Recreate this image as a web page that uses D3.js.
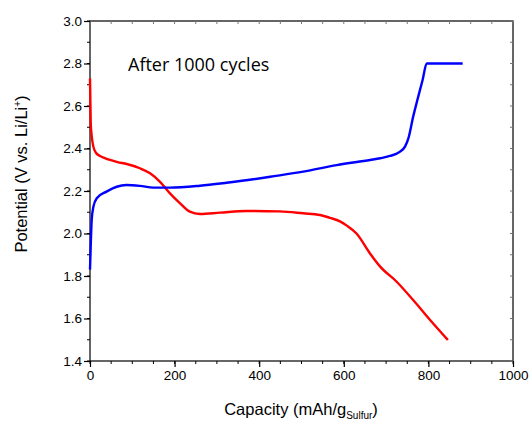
<!doctype html>
<html>
<head>
<meta charset="utf-8">
<script src="https://cdnjs.cloudflare.com/ajax/libs/d3/7.8.5/d3.min.js"></script>
<style>
  body { margin: 0; background: #fff; }
  svg text { font-family: "Liberation Sans", Arial, sans-serif; fill: #000; }
  path.domain { stroke: none; }
</style>
</head>
<body>
<svg id="chart" width="530" height="422"></svg>
<script>
// discharge curve (red)
var dischargeCap = [0, 1.7, 4, 7.8, 14, 23.6, 35, 47.3, 65, 86.8, 118, 142, 165, 189, 213, 236, 260, 307, 370, 449, 504, 544, 567, 591, 607, 630, 662, 686, 725, 764, 804, 846];
var dischargeV   = [2.73, 2.52, 2.46, 2.41, 2.38, 2.365, 2.355, 2.346, 2.336, 2.327, 2.307, 2.283, 2.244, 2.189, 2.142, 2.103, 2.092, 2.098, 2.106, 2.104, 2.095, 2.087, 2.074, 2.057, 2.037, 2.0, 1.906, 1.844, 1.773, 1.687, 1.593, 1.499];
// charge curve (blue)
var chargeCap = [0, 2, 4, 8, 16, 39, 63, 86, 118, 150, 189, 260, 323, 386, 426, 504, 583, 662, 686, 709, 733, 745, 753, 764, 776, 786, 796, 881];
var chargeV   = [1.83, 1.96, 2.063, 2.126, 2.166, 2.197, 2.22, 2.228, 2.224, 2.216, 2.216, 2.225, 2.239, 2.255, 2.267, 2.291, 2.322, 2.346, 2.354, 2.365, 2.385, 2.41, 2.45, 2.55, 2.644, 2.72, 2.8, 2.8];

var xTicks = [0, 200, 400, 600, 800, 1000];
var yTicks = [1.4, 1.6, 1.8, 2.0, 2.2, 2.4, 2.6, 2.8, 3.0];

var svg = d3.select("#chart");
var mLeft = 90, mRight = 513, mTop = 21, mBottom = 361;

var x = d3.scaleLinear().domain([0, 1000]).range([mLeft, mRight]);
var y = d3.scaleLinear().domain([1.4, 3.0]).range([mBottom, mTop]);

// frame
svg.append("rect")
  .attr("x", mLeft).attr("y", mTop)
  .attr("width", mRight - mLeft).attr("height", mBottom - mTop)
  .attr("fill", "none").attr("stroke", "#000").attr("stroke-width", 1.2);

// minor ticks
var xMinor = d3.range(0, 1001, 50);
var yMinor = d3.range(14, 31).map(d => d / 10);

svg.append("g").selectAll("line").data(xMinor).enter().append("line")
  .attr("x1", d => x(d)).attr("x2", d => x(d))
  .attr("y1", mBottom).attr("y2", mBottom + 3)
  .attr("stroke", "#000");
svg.append("g").selectAll("line").data(yMinor).enter().append("line")
  .attr("x1", mLeft - 3).attr("x2", mLeft)
  .attr("y1", d => y(d)).attr("y2", d => y(d))
  .attr("stroke", "#000");
// inner ticks on top and right
svg.append("g").selectAll("line").data(xMinor).enter().append("line")
  .attr("x1", d => x(d)).attr("x2", d => x(d))
  .attr("y1", mTop).attr("y2", mTop + 3)
  .attr("stroke", "#777");
svg.append("g").selectAll("line").data(yMinor).enter().append("line")
  .attr("x1", mRight - 3).attr("x2", mRight)
  .attr("y1", d => y(d)).attr("y2", d => y(d))
  .attr("stroke", "#777");

var xAxis = d3.axisBottom(x).tickValues(xTicks).tickSize(6).tickPadding(3).tickFormat(d3.format("d"));
svg.append("g").attr("transform", "translate(0," + mBottom + ")").call(xAxis);

var yAxis = d3.axisLeft(y).tickValues(yTicks).tickSize(6).tickPadding(2).tickFormat(d3.format(".1f"));
svg.append("g").attr("transform", "translate(" + mLeft + ",0)").call(yAxis);

svg.selectAll(".tick line").attr("stroke-width", 1.2);
svg.selectAll(".tick text").style("font-size", "13.5px");

var line = d3.line().curve(d3.curveMonotoneX);

var red = dischargeCap.map((c, i) => [x(c), y(dischargeV[i])]);
var blue = chargeCap.map((c, i) => [x(c), y(chargeV[i])]);

svg.append("path").attr("d", line(red))
  .attr("fill", "none").attr("stroke", "#ff0000").attr("stroke-width", 2.4);
svg.append("path").attr("d", line(blue))
  .attr("fill", "none").attr("stroke", "#0000ff").attr("stroke-width", 2.4);

// annotation
svg.append("text").attr("x", 128).attr("y", 71)
  .style("font-family", "'Open Sans', Lato, sans-serif").style("font-size", "18px")
  .text("After 1000 cycles");

// axis titles
var xt = svg.append("text").attr("x", 301).attr("y", 415)
  .attr("text-anchor", "middle").style("font-size", "16.5px");
xt.append("tspan").text("Capacity (mAh/g");
xt.append("tspan").attr("dy", 4).style("font-size", "10px").text("Sulfur");
xt.append("tspan").attr("dy", -4).text(")");

var yt = svg.append("text")
  .attr("transform", "translate(27,174) rotate(-90)")
  .attr("text-anchor", "middle").style("font-size", "16.5px");
yt.append("tspan").text("Potential (V vs. Li/Li");
yt.append("tspan").attr("dy", -6).style("font-size", "10px").text("+");
yt.append("tspan").attr("dy", 6).text(")");
</script>
</body>
</html>
